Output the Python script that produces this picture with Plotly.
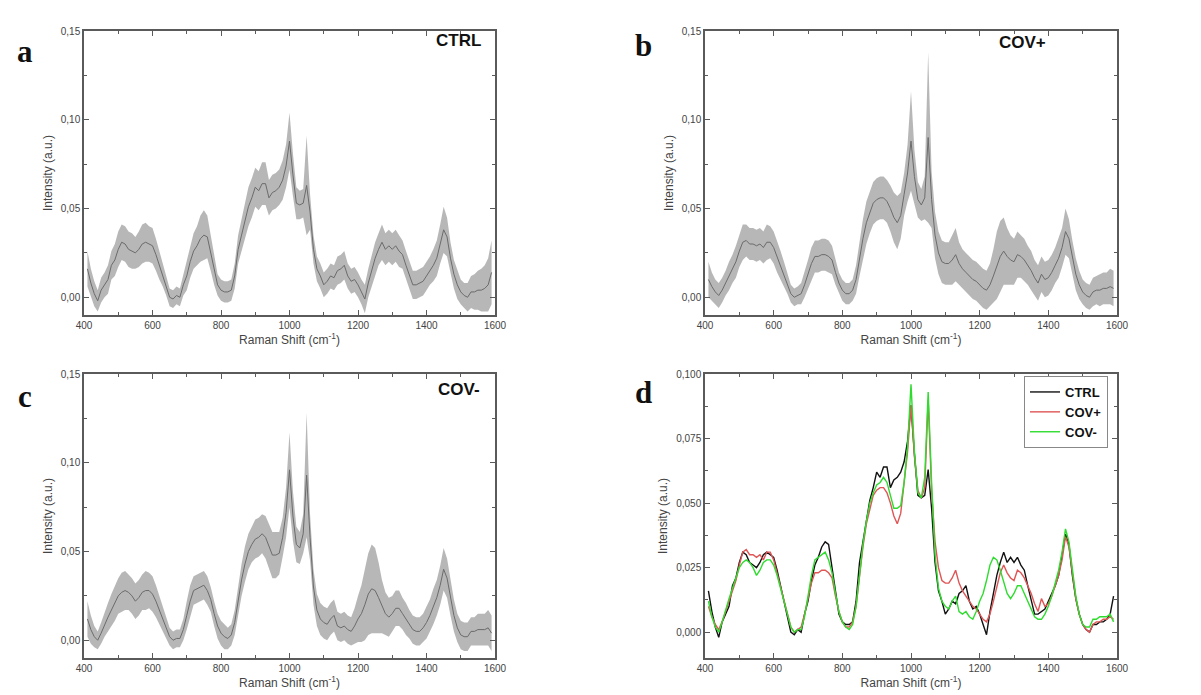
import numpy as np
import plotly.graph_objects as go
from plotly.subplots import make_subplots

# Raman shift grid (cm-1)
wavenumber = list(range(410, 1600, 10))

ctrl_mean = [
    0.016, 0.008, 0.002, -0.002, 0.004, 0.007, 0.010, 0.018, 0.021, 0.027,
    0.031, 0.030, 0.027, 0.026, 0.025, 0.027, 0.030, 0.031, 0.030, 0.029,
    0.024, 0.018, 0.013, 0.007, 0.000, -0.001, 0.001, 0.000, 0.007, 0.012,
    0.020, 0.026, 0.029, 0.033, 0.035, 0.034, 0.025, 0.015, 0.007, 0.004,
    0.003, 0.003, 0.004, 0.012, 0.027, 0.035, 0.043, 0.051, 0.056, 0.062,
    0.060, 0.064, 0.064, 0.056, 0.059, 0.060, 0.062, 0.066, 0.074, 0.088,
    0.069, 0.053, 0.052, 0.053, 0.063, 0.048, 0.027, 0.016, 0.012, 0.007,
    0.009, 0.012, 0.011, 0.015, 0.016, 0.018, 0.012, 0.009, 0.010, 0.007,
    0.003, -0.001, 0.008, 0.015, 0.022, 0.027, 0.031, 0.027, 0.029, 0.027,
    0.029, 0.026, 0.024, 0.018, 0.012, 0.007, 0.007, 0.008, 0.009, 0.012,
    0.015, 0.018, 0.022, 0.030, 0.038, 0.034, 0.022, 0.013, 0.007, 0.003,
    0.001, 0.000, 0.003, 0.003, 0.004, 0.004, 0.005, 0.007, 0.014,
]
covp_mean = [
    0.010, 0.006, 0.003, 0.001, 0.004, 0.008, 0.012, 0.016, 0.020, 0.026,
    0.031, 0.032, 0.030, 0.030, 0.029, 0.030, 0.028, 0.031, 0.031, 0.028,
    0.023, 0.018, 0.013, 0.008, 0.002, 0.000, 0.001, 0.002, 0.007, 0.013,
    0.019, 0.023, 0.023, 0.024, 0.024, 0.023, 0.021, 0.014, 0.008, 0.004,
    0.002, 0.002, 0.004, 0.010, 0.022, 0.033, 0.042, 0.048, 0.053, 0.055,
    0.056, 0.056, 0.054, 0.050, 0.045, 0.042, 0.046, 0.058, 0.070, 0.088,
    0.068, 0.055, 0.052, 0.056, 0.090, 0.055, 0.035, 0.025, 0.020, 0.019,
    0.019, 0.021, 0.024, 0.019, 0.016, 0.014, 0.012, 0.010, 0.009, 0.007,
    0.005, 0.004, 0.007, 0.012, 0.018, 0.023, 0.026, 0.023, 0.021, 0.020,
    0.024, 0.023, 0.021, 0.018, 0.015, 0.011, 0.008, 0.013, 0.010, 0.011,
    0.014, 0.018, 0.022, 0.028, 0.037, 0.033, 0.022, 0.013, 0.007, 0.003,
    0.001, 0.000, 0.003, 0.004, 0.004, 0.005, 0.005, 0.006, 0.005,
]
covm_mean = [
    0.012, 0.006, 0.002, 0.000, 0.004, 0.009, 0.013, 0.017, 0.021, 0.025,
    0.027, 0.028, 0.027, 0.025, 0.022, 0.024, 0.027, 0.028, 0.028, 0.026,
    0.022, 0.017, 0.012, 0.007, 0.002, 0.000, 0.001, 0.001, 0.006, 0.014,
    0.022, 0.028, 0.029, 0.030, 0.031, 0.028, 0.023, 0.015, 0.008, 0.004,
    0.002, 0.001, 0.003, 0.010, 0.022, 0.034, 0.043, 0.050, 0.054, 0.057,
    0.058, 0.060, 0.058, 0.053, 0.048, 0.048, 0.049, 0.058, 0.072, 0.096,
    0.070, 0.054, 0.052, 0.060, 0.093, 0.058, 0.030, 0.017, 0.012, 0.010,
    0.009, 0.012, 0.014, 0.008, 0.007, 0.008, 0.006, 0.005, 0.008, 0.012,
    0.015, 0.020, 0.026, 0.029, 0.028, 0.024, 0.019, 0.015, 0.013, 0.015,
    0.018, 0.018, 0.015, 0.012, 0.009, 0.006, 0.005, 0.005, 0.007, 0.010,
    0.014, 0.019, 0.024, 0.031, 0.040, 0.035, 0.024, 0.014, 0.007, 0.003,
    0.002, 0.002, 0.005, 0.005, 0.006, 0.006, 0.006, 0.007, 0.004,
]

ctrl_sd = [
    0.010, 0.008, 0.007, 0.006, 0.007, 0.007, 0.008, 0.008, 0.009, 0.010,
    0.010, 0.010, 0.010, 0.010, 0.009, 0.010, 0.011, 0.011, 0.010, 0.010,
    0.009, 0.008, 0.007, 0.006, 0.005, 0.005, 0.005, 0.005, 0.006, 0.008,
    0.009, 0.010, 0.011, 0.013, 0.014, 0.012, 0.010, 0.008, 0.006, 0.006,
    0.006, 0.006, 0.006, 0.007, 0.008, 0.009, 0.010, 0.011, 0.011, 0.011,
    0.011, 0.012, 0.012, 0.010, 0.010, 0.010, 0.010, 0.011, 0.012, 0.016,
    0.012, 0.009, 0.008, 0.008, 0.028, 0.010, 0.008, 0.007, 0.007, 0.007,
    0.007, 0.007, 0.007, 0.008, 0.008, 0.008, 0.007, 0.007, 0.007, 0.007,
    0.007, 0.008, 0.008, 0.009, 0.009, 0.009, 0.010, 0.009, 0.009, 0.009,
    0.009, 0.009, 0.008, 0.008, 0.008, 0.008, 0.008, 0.008, 0.008, 0.008,
    0.008, 0.009, 0.010, 0.011, 0.013, 0.011, 0.009, 0.008, 0.008, 0.007,
    0.007, 0.008, 0.009, 0.010, 0.011, 0.012, 0.013, 0.015, 0.018,
]
covp_sd = [
    0.010, 0.008, 0.007, 0.007, 0.007, 0.007, 0.008, 0.008, 0.009, 0.009,
    0.010, 0.009, 0.009, 0.009, 0.009, 0.009, 0.009, 0.010, 0.009, 0.009,
    0.009, 0.008, 0.007, 0.006, 0.005, 0.005, 0.005, 0.006, 0.007, 0.008,
    0.009, 0.009, 0.009, 0.009, 0.009, 0.009, 0.008, 0.007, 0.006, 0.006,
    0.006, 0.006, 0.006, 0.008, 0.010, 0.011, 0.012, 0.012, 0.012, 0.012,
    0.012, 0.012, 0.012, 0.013, 0.014, 0.015, 0.013, 0.012, 0.016, 0.028,
    0.015, 0.010, 0.009, 0.012, 0.048, 0.016, 0.013, 0.012, 0.012, 0.012,
    0.012, 0.014, 0.015, 0.012, 0.011, 0.011, 0.011, 0.011, 0.011, 0.011,
    0.011, 0.011, 0.012, 0.015, 0.019, 0.020, 0.019, 0.016, 0.014, 0.013,
    0.013, 0.012, 0.012, 0.011, 0.011, 0.010, 0.010, 0.010, 0.010, 0.010,
    0.010, 0.010, 0.011, 0.011, 0.013, 0.011, 0.010, 0.009, 0.008, 0.007,
    0.007, 0.007, 0.008, 0.008, 0.009, 0.009, 0.009, 0.010, 0.010,
]
covm_sd = [
    0.010, 0.008, 0.006, 0.005, 0.006, 0.007, 0.008, 0.009, 0.010, 0.010,
    0.011, 0.011, 0.010, 0.010, 0.010, 0.010, 0.010, 0.011, 0.010, 0.010,
    0.009, 0.008, 0.007, 0.006, 0.005, 0.005, 0.005, 0.005, 0.006, 0.008,
    0.009, 0.008, 0.008, 0.008, 0.008, 0.008, 0.007, 0.007, 0.007, 0.007,
    0.007, 0.006, 0.006, 0.007, 0.008, 0.009, 0.010, 0.010, 0.010, 0.011,
    0.011, 0.011, 0.012, 0.012, 0.013, 0.013, 0.012, 0.011, 0.014, 0.021,
    0.014, 0.010, 0.009, 0.011, 0.035, 0.013, 0.010, 0.009, 0.009, 0.009,
    0.009, 0.009, 0.009, 0.008, 0.008, 0.008, 0.008, 0.008, 0.010, 0.013,
    0.016, 0.020, 0.023, 0.025, 0.024, 0.020, 0.015, 0.012, 0.011, 0.010,
    0.010, 0.010, 0.009, 0.009, 0.008, 0.008, 0.008, 0.008, 0.008, 0.009,
    0.009, 0.010, 0.010, 0.011, 0.012, 0.011, 0.010, 0.009, 0.008, 0.008,
    0.008, 0.008, 0.008, 0.008, 0.009, 0.009, 0.009, 0.010, 0.010,
]

group_names = ["CTRL", "COV+", "COV-"]
group_colors = ["#111111", "#e05555", "#2edc2e"]
panel_letters = ["a", "b", "c", "d"]

FONT = "Liberation Sans, Arial, sans-serif"
BAND = "rgba(170,170,170,0.85)"
MEANLINE = "#6b6b6b"

fig = make_subplots(rows=2, cols=2)

means = [ctrl_mean, covp_mean, covm_mean]
sds = [ctrl_sd, covp_sd, covm_sd]
cells = [(1, 1), (1, 2), (2, 1)]

for (r, c), m, s in zip(cells, means, sds):
    m = np.array(m)
    s = np.array(s)
    fig.add_trace(go.Scatter(x=wavenumber, y=m - s, mode="lines",
                             line=dict(width=0, color=BAND), showlegend=False,
                             hoverinfo="skip"), row=r, col=c)
    fig.add_trace(go.Scatter(x=wavenumber, y=m + s, mode="lines", fill="tonexty",
                             fillcolor=BAND, line=dict(width=0, color=BAND),
                             showlegend=False, hoverinfo="skip"), row=r, col=c)
    fig.add_trace(go.Scatter(x=wavenumber, y=m, mode="lines",
                             line=dict(width=1, color=MEANLINE), showlegend=False),
                  row=r, col=c)

for name, color, m in zip(group_names, group_colors, means):
    fig.add_trace(go.Scatter(x=wavenumber, y=m, mode="lines", name="<b>%s</b>" % name,
                             line=dict(width=1.4, color=color)), row=2, col=2)

W, H = 1201, 695
# panel frames in pixels: (left, right, top, bottom)
frames = {
    (1, 1): (76, 487, 23, 307),
    (1, 2): (697, 1109, 23, 307),
    (2, 1): (76, 487, 366, 650),
    (2, 2): (697, 1109, 366, 650),
}

axis_common = dict(
    showline=True, linecolor="#5a5a5a", linewidth=1.5, mirror="ticks",
    ticks="inside", ticklen=5, tickcolor="#5a5a5a", tickwidth=1,
    showgrid=False, zeroline=False,
    tickfont=dict(family=FONT, size=10, color="#444444"),
    automargin=False,
)

for (r, c), (l, rr, t, b) in frames.items():
    xdom = [l / W, rr / W]
    ydom = [(H - b) / H, (H - t) / H]
    fig.update_xaxes(domain=xdom, range=[400, 1600], dtick=200, tick0=400,
                     minor=dict(ticks="inside", ticklen=3, dtick=100, tick0=400,
                                tickcolor="#5a5a5a"),
                     title=dict(text="Raman Shift (cm<sup>-1</sup>)",
                                font=dict(family=FONT, size=12, color="#444444"),
                                standoff=4),
                     row=r, col=c, **axis_common)
    if (r, c) == (2, 2):
        fig.update_yaxes(domain=ydom, range=[-0.01, 0.1], dtick=0.025, tick0=0,
                         tickformat=".3f",
                         minor=dict(ticks="inside", ticklen=3, dtick=0.0125, tick0=0,
                                    tickcolor="#5a5a5a"),
                         row=r, col=c, **axis_common)
    else:
        fig.update_yaxes(domain=ydom, range=[-0.01, 0.15], dtick=0.05, tick0=0,
                         tickformat=".2f",
                         minor=dict(ticks="inside", ticklen=3, dtick=0.025, tick0=0,
                                    tickcolor="#5a5a5a"),
                         row=r, col=c, **axis_common)
    fig.update_yaxes(title=dict(text="Intensity (a.u.)",
                                font=dict(family=FONT, size=12, color="#444444"),
                                standoff=6), row=r, col=c)

# panel letters
letter_pos = [(17, 43), (635, 37), (17, 388), (635, 384)]
for letter, (px, py) in zip(panel_letters, letter_pos):
    fig.add_annotation(x=px / W, y=(H - py) / H, xref="paper", yref="paper",
                       text="<b>%s</b>" % letter, showarrow=False,
                       font=dict(family="Liberation Serif, Times New Roman, serif",
                                 size=31, color="#111111"),
                       xanchor="center", yanchor="middle")

# group labels in panels a-c
label_pos = [(450, 33), (1014, 34), (451, 382)]
for name, (px, py) in zip(group_names, label_pos):
    fig.add_annotation(x=px / W, y=(H - py) / H, xref="paper", yref="paper",
                       text="<b>%s</b>" % name, showarrow=False,
                       font=dict(family=FONT, size=17, color="#111111"),
                       xanchor="center", yanchor="middle")

fig.update_layout(
    width=W, height=H,
    margin=dict(l=0, r=0, t=0, b=0),
    paper_bgcolor="white", plot_bgcolor="white",
    separators=",.",
    legend=dict(x=1100 / W, y=(H - 368) / H, xanchor="right", yanchor="top",
                traceorder="normal",
                bgcolor="white", bordercolor="#888888", borderwidth=1,
                font=dict(family=FONT, size=13, color="#111111"),
                tracegroupgap=0, itemwidth=30),
)

fig.write_html("out.html")
